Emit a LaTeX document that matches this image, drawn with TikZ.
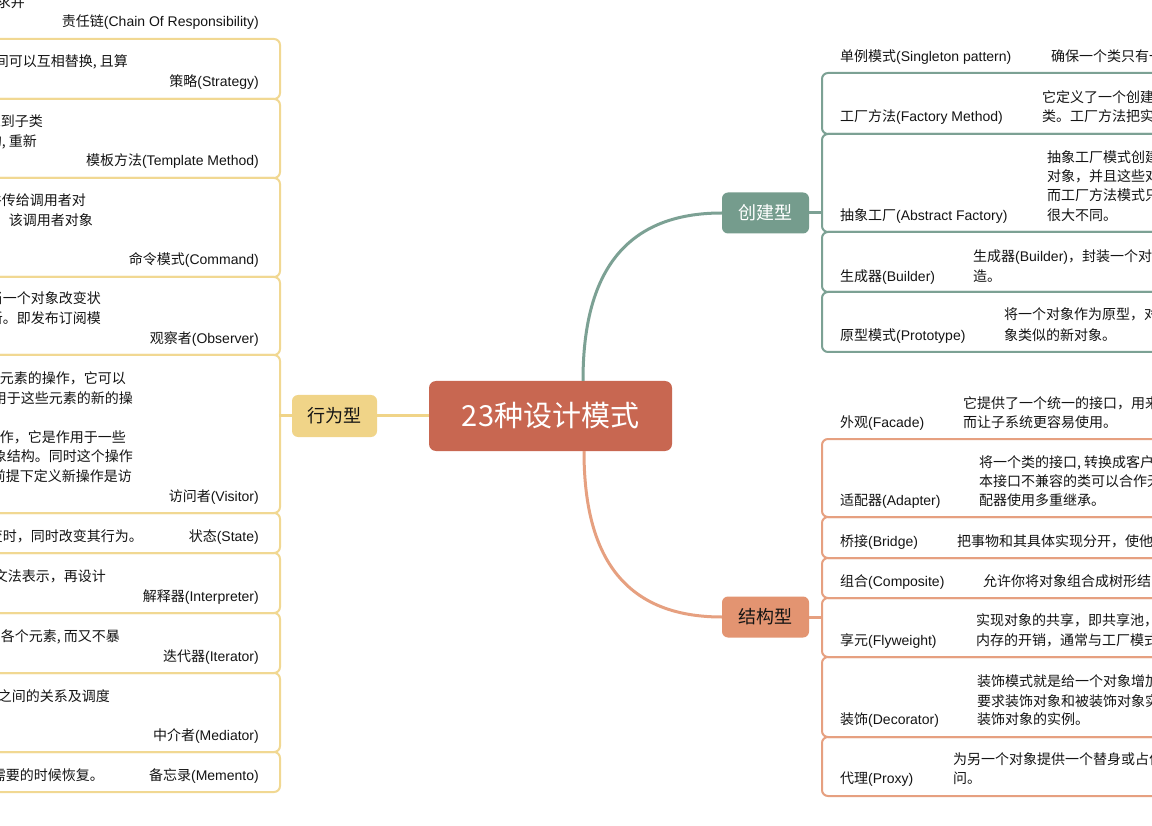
\documentclass[tikz,border=0pt]{standalone}
\usepackage{fontspec}
\setmainfont{Noto Sans CJK SC}
\newfontfamily\latf{Liberation Sans}
\newcommand\eng[1]{{\latf #1}}
\definecolor{rootc}{RGB}{200,103,81}
\definecolor{grnc}{RGB}{117,156,141}
\definecolor{grnl}{RGB}{124,161,148}
\definecolor{ylwc}{RGB}{240,212,136}
\definecolor{ylwl}{RGB}{241,216,146}
\definecolor{orgc}{RGB}{227,148,113}
\definecolor{orgl}{RGB}{230,160,128}
\definecolor{txtc}{RGB}{20,20,20}
\newcommand\putR[4]{\node[txt,anchor=base west] (#1) at (#2,#3+5.5) {#4};}
\newcommand\putL[4]{\node[txt,anchor=base east] (#1) at (#2,#3+5.5) {#4};}
\begin{document}
\begin{tikzpicture}[x=1pt,y=-1pt,
  txt/.style={inner sep=0pt,font=\fontsize{14}{17}\selectfont,text=txtc},
  midbox/.style={rounded corners=6pt,inner sep=0pt,minimum width=87pt,minimum height=41pt,font=\fontsize{18}{20}\selectfont},
  ylwrow/.style={draw=ylwl,line width=2pt,rounded corners=6pt},
  grnrow/.style={draw=grnl,line width=2pt,rounded corners=6pt},
  orgrow/.style={draw=orgl,line width=2pt,rounded corners=6pt},
  ylwline/.style={draw=ylwc,line width=3pt},
  grnline/.style={draw=grnl,line width=3pt},
  orgline/.style={draw=orgl,line width=3pt}]
\useasboundingbox (0,0) rectangle (1152,826);
\clip (0,0) rectangle (1152,826);
\fill[white] (0,0) rectangle (1152,826);
% row frames
\foreach \a/\b in {39/99,99/178,178/277,277/355,355/513,513/553,553/613,613/673,673/752,752/792}
  \draw[ylwrow] (-20,\a) rectangle (280,\b);
\foreach \a/\b in {73/134,134/232,232/292,292/352}
  \draw[grnrow] (822,\a) rectangle (1180,\b);
\foreach \a/\b in {439/517,517/558,558/598,598/657,657/737,737/796}
  \draw[orgrow] (822,\a) rectangle (1180,\b);
% main nodes
\node[rounded corners=7pt,fill=rootc,inner sep=0pt,minimum width=243pt,minimum height=70pt,font=\fontsize{29}{32}\selectfont,text=white] (root) at (550.5,416) {23种设计模式};
\node[midbox,fill=grnc,text=white] (cre) at (765.5,213) {创建型};
\node[midbox,fill=ylwc,text=txtc,minimum width=85pt,minimum height=42pt] (beh) at (334.5,416) {行为型};
\node[midbox,fill=orgc,text=txtc] (str) at (765.5,617) {结构型};
% connectors
\coordinate (rt) at ([xshift=32.5pt]root.north);
\coordinate (rb) at ([xshift=33.5pt]root.south);
\coordinate (cb) at (823,213);
\coordinate (sb) at (823,617);
\coordinate (lb) at (279,416);
\draw[grnline] (rt) .. controls (583,290) and (612,213) .. (cre.west);
\draw[orgline] (rb) .. controls (584,540) and (612,617) .. (str.west);
\draw[ylwline] (beh.east) -- (root.west);
\draw[ylwline] (beh.west) -- (lb);
\draw[grnline] (cre.east) -- (cb);
\draw[orgline] (str.east) -- (sb);
% left side: behavioural
\putL{d0}{25}{2}{求并}
\putL{l0}{259}{21}{责任链\eng{(Chain Of Responsibility)}}
\putL{d1}{128}{61}{间可以互相替换, 且算}
\putL{l1}{259}{81}{策略\eng{(Strategy)}}
\putL{d2a}{43}{121}{迟到子类}
\putL{d2b}{37}{141}{构, 重新}
\putL{l2}{259}{160}{模板方法\eng{(Template Method)}}
\putL{d3a}{86}{200}{件传给调用者对}
\putL{d3b}{93}{220}{该调用者对象}
\putL{l3}{259}{259}{命令模式\eng{(Command)}}
\putL{d4a}{101}{298}{当一个对象改变状}
\putL{d4b}{101}{318}{新。即发布订阅模}
\putL{l4}{259}{338}{观察者\eng{(Observer)}}
\putL{d5a}{126}{378}{元素的操作，它可以}
\putL{d5b}{133}{398}{用于这些元素的新的操}
\putL{d5c}{126}{437}{作，它是作用于一些}
\putL{d5d}{133}{456}{象结构。同时这个操作}
\putL{d5e}{132}{476}{前提下定义新操作是访}
\putL{l5}{259}{496}{访问者\eng{(Visitor)}}
\putL{d6}{143}{536}{变时，同时改变其行为。}
\putL{l6}{259}{536}{状态\eng{(State)}}
\putL{d7}{106}{576}{文法表示，再设计}
\putL{l7}{259}{596}{解释器\eng{(Interpreter)}}
\putL{d8}{120}{636}{各个元素, 而又不暴}
\putL{l8}{259}{656}{迭代器\eng{(Iterator)}}
\putL{d9}{110}{696}{之间的关系及调度}
\putL{l9}{259}{735}{中介者\eng{(Mediator)}}
\putL{d10}{104}{775}{需要的时候恢复。}
\putL{l10}{259}{775}{备忘录\eng{(Memento)}}
% right side: creational
\putR{c0}{840}{56}{单例模式\eng{(Singleton pattern)}}
\putR{e0}{1051}{56}{确保一个类只有一}
\putR{c1}{840}{116}{工厂方法\eng{(Factory Method)}}
\putR{e1a}{1042}{97}{它定义了一个创建}
\putR{e1b}{1042}{116}{类。工厂方法把实}
\putR{c2}{840}{215}{抽象工厂\eng{(Abstract Factory)}}
\putR{e2a}{1047}{157}{抽象工厂模式创建}
\putR{e2b}{1047}{176}{对象，并且这些对}
\putR{e2c}{1047}{195}{而工厂方法模式只}
\putR{e2d}{1047}{215}{很大不同。}
\putR{c3}{840}{276}{生成器\eng{(Builder)}}
\putR{e3a}{973}{256}{生成器\eng{(Builder)}，封装一个对}
\putR{e3b}{973}{276}{造。}
\putR{c4}{840}{335}{原型模式\eng{(Prototype)}}
\putR{e4a}{1004}{314}{将一个对象作为原型，对}
\putR{e4b}{1004}{335}{象类似的新对象。}
% right side: structural
\putR{s0}{840}{422}{外观\eng{(Facade)}}
\putR{f0a}{963}{403}{它提供了一个统一的接口，用来}
\putR{f0b}{963}{422}{而让子系统更容易使用。}
\putR{s1}{840}{500}{适配器\eng{(Adapter)}}
\putR{f1a}{979}{462}{将一个类的接口, 转换成客户}
\putR{f1b}{979}{481}{本接口不兼容的类可以合作无}
\putR{f1c}{979}{500}{配器使用多重继承。}
\putR{s2}{840}{541}{桥接\eng{(Bridge)}}
\putR{f2}{957}{541}{把事物和其具体实现分开，使他}
\putR{s3}{840}{581}{组合\eng{(Composite)}}
\putR{f3}{983}{581}{允许你将对象组合成树形结}
\putR{s4}{840}{640}{享元\eng{(Flyweight)}}
\putR{f4a}{976}{620}{实现对象的共享，即共享池，}
\putR{f4b}{976}{640}{内存的开销，通常与工厂模式}
\putR{s5}{840}{719}{装饰\eng{(Decorator)}}
\putR{f5a}{977}{681}{装饰模式就是给一个对象增加}
\putR{f5b}{977}{701}{要求装饰对象和被装饰对象实}
\putR{f5c}{977}{719}{装饰对象的实例。}
\putR{s6}{840}{778}{代理\eng{(Proxy)}}
\putR{f6a}{953}{759}{为另一个对象提供一个替身或占位}
\putR{f6b}{953}{778}{问。}
\end{tikzpicture}
\end{document}
